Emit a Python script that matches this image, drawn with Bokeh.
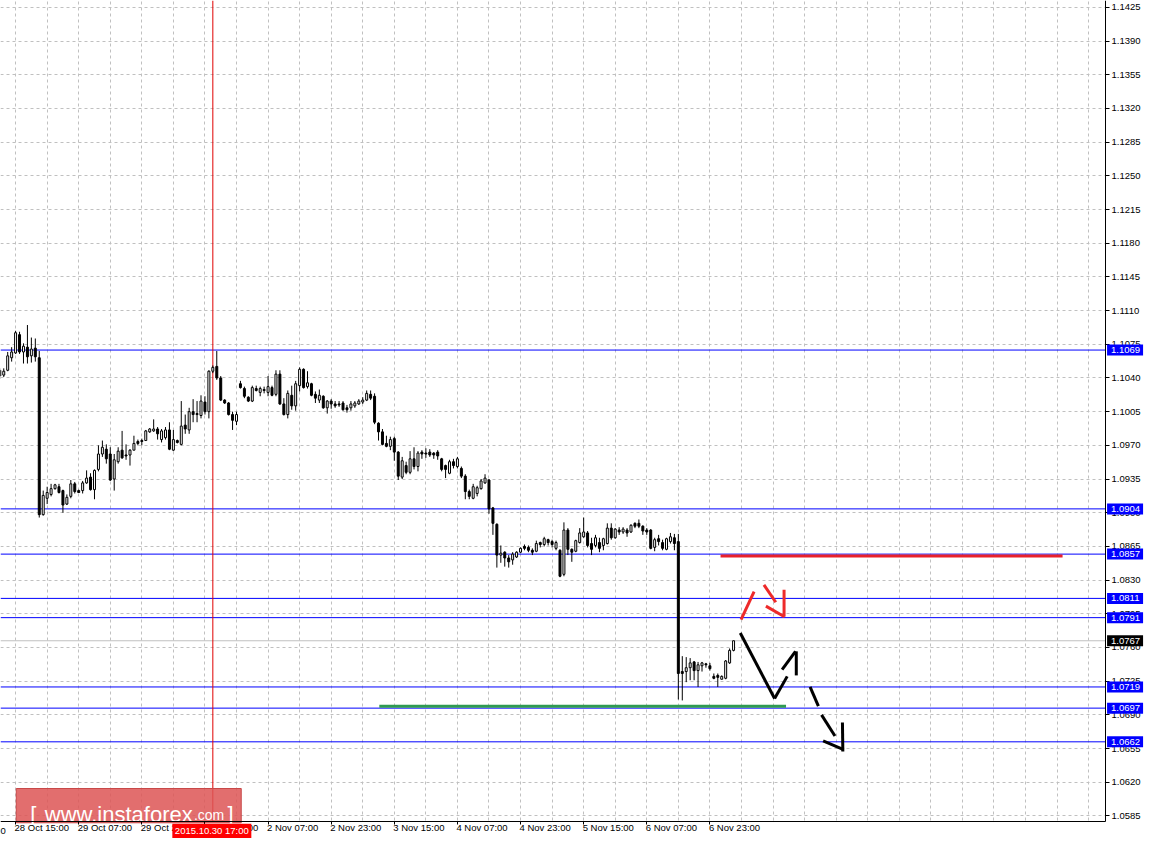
import numpy as np
from bokeh.plotting import figure
from bokeh.models import FixedTicker, PrintfTickFormatter
from bokeh.embed import file_html
from bokeh.resources import INLINE
from bokeh.core.properties import value

# ---------------- data (EURUSD H1, bar index 0 = 28 Oct 15:00) ----------------
first_bar = -4
opens = [
 1.1042, 1.1043, 1.1048, 1.1061,
 1.1066, 1.1085, 1.1067, 1.1072, 1.1063, 1.1071, 1.1061, 1.0898, 1.0915, 1.0919,
 1.0925, 1.0927, 1.0923, 1.0909, 1.0917, 1.0930, 1.0923, 1.0923, 1.0931, 1.0937,
 1.0924, 1.0945, 1.0961, 1.0966, 1.0961, 1.0935, 1.0953, 1.0965, 1.0960, 1.0960,
 1.0965, 1.0974, 1.0975, 1.0975, 1.0984, 1.0985, 1.0987, 1.0976, 1.0978, 1.0986,
 1.0965, 1.0975, 1.0971, 1.0991, 1.0986, 1.1005, 1.1003, 1.1001, 1.1015, 1.1005,
 1.1047, 1.1052, 1.1040, 1.1017, 1.1014, 1.1002, 1.0995, 1.1034, 1.1029, 1.1020,
 1.1016, 1.1029, 1.1025, 1.1028, 1.1025, 1.1030, 1.1023, 1.1044, 1.1013, 1.1002,
 1.1022, 1.1011, 1.1032, 1.1049, 1.1031, 1.1034, 1.1023, 1.1017, 1.1021, 1.1009,
 1.1016, 1.1013, 1.1013, 1.1014, 1.1009, 1.1009, 1.1011, 1.1013, 1.1015, 1.1017,
 1.1023, 1.1021, 1.0993, 1.0984, 1.0972, 1.0969, 1.0977, 1.0963, 1.0937, 1.0949,
 1.0942, 1.0956, 1.0948, 1.0963, 1.0962, 1.0963, 1.0962, 1.0963, 1.0956, 1.0949,
 1.0941, 1.0953, 1.0948, 1.0946, 1.0938, 1.0922, 1.0915, 1.0920, 1.0925, 1.0931,
 1.0934, 1.0905, 1.0888, 1.0856, 1.0859, 1.0853, 1.0851, 1.0854, 1.0859, 1.0865,
 1.0864, 1.0861, 1.0860, 1.0869, 1.0867, 1.0872, 1.0870, 1.0863, 1.0861, 1.0836,
 1.0882, 1.0862, 1.0860, 1.0869, 1.0875, 1.0879, 1.0868, 1.0866, 1.0869, 1.0866,
 1.0868, 1.0884, 1.0874, 1.0882, 1.0880, 1.0882, 1.0880, 1.0889, 1.0889, 1.0886,
 1.0882, 1.0882, 1.0864, 1.0873, 1.0869, 1.0862, 1.0870, 1.0874, 1.0870, 1.0735,
 1.0735, 1.0739, 1.0745, 1.0736, 1.0741, 1.0743, 1.0741, 1.0730, 1.0731, 1.0727,
 1.0728, 1.0744, 1.0757]
highs = [
 1.1050, 1.1050, 1.1067, 1.1072,
 1.1089, 1.1088, 1.1076, 1.1095, 1.1082, 1.1081, 1.1068, 1.0923, 1.0927, 1.0930,
 1.0930, 1.0930, 1.0924, 1.0919, 1.0934, 1.0932, 1.0924, 1.0933, 1.0944, 1.0941,
 1.0945, 1.0970, 1.0975, 1.0971, 1.0968, 1.0961, 1.0968, 1.0985, 1.0971, 1.0966,
 1.0980, 1.0976, 1.0977, 1.0986, 1.0988, 1.0997, 1.0989, 1.0987, 1.0989, 1.0994,
 1.0986, 1.0976, 1.1016, 1.1002, 1.1009, 1.1018, 1.1016, 1.1022, 1.1021, 1.1048,
 1.1053, 1.1068, 1.1042, 1.1018, 1.1015, 1.1005, 1.1005, 1.1037, 1.1031, 1.1021,
 1.1032, 1.1032, 1.1031, 1.1031, 1.1042, 1.1032, 1.1048, 1.1048, 1.1019, 1.1027,
 1.1032, 1.1037, 1.1051, 1.1050, 1.1047, 1.1035, 1.1026, 1.1028, 1.1022, 1.1017,
 1.1018, 1.1016, 1.1016, 1.1016, 1.1012, 1.1016, 1.1016, 1.1018, 1.1020, 1.1027,
 1.1027, 1.1024, 1.0994, 1.0987, 1.0980, 1.0979, 1.0979, 1.0964, 1.0958, 1.0953,
 1.0964, 1.0968, 1.0964, 1.0965, 1.0967, 1.0966, 1.0963, 1.0965, 1.0957, 1.0950,
 1.0955, 1.0956, 1.0958, 1.0948, 1.0940, 1.0924, 1.0930, 1.0928, 1.0935, 1.0940,
 1.0935, 1.0906, 1.0889, 1.0866, 1.0860, 1.0856, 1.0859, 1.0860, 1.0864, 1.0867,
 1.0866, 1.0863, 1.0871, 1.0870, 1.0875, 1.0873, 1.0872, 1.0871, 1.0862, 1.0890,
 1.0884, 1.0863, 1.0872, 1.0884, 1.0895, 1.0881, 1.0874, 1.0877, 1.0874, 1.0874,
 1.0889, 1.0889, 1.0884, 1.0885, 1.0885, 1.0884, 1.0888, 1.0890, 1.0893, 1.0887,
 1.0884, 1.0883, 1.0874, 1.0877, 1.0872, 1.0874, 1.0879, 1.0878, 1.0878, 1.0751,
 1.0750, 1.0749, 1.0746, 1.0745, 1.0745, 1.0744, 1.0744, 1.0733, 1.0733, 1.0731,
 1.0747, 1.0759, 1.0767]
lows = [
 1.1039, 1.1041, 1.1047, 1.1057,
 1.1065, 1.1065, 1.1055, 1.1055, 1.1056, 1.1057, 1.0895, 1.0897, 1.0909, 1.0917,
 1.0924, 1.0920, 1.0900, 1.0908, 1.0915, 1.0920, 1.0921, 1.0920, 1.0930, 1.0923,
 1.0914, 1.0943, 1.0958, 1.0951, 1.0933, 1.0923, 1.0951, 1.0956, 1.0955, 1.0949,
 1.0965, 1.0970, 1.0970, 1.0975, 1.0983, 1.0984, 1.0976, 1.0973, 1.0976, 1.0965,
 1.0964, 1.0972, 1.0970, 1.0982, 1.0982, 1.0994, 1.0994, 1.0998, 1.1002, 1.0998,
 1.1045, 1.1038, 1.1016, 1.1013, 1.1001, 1.0986, 1.0991, 1.1029, 1.1019, 1.1015,
 1.1015, 1.1026, 1.1021, 1.1024, 1.1021, 1.1021, 1.1021, 1.1012, 1.1001, 1.0998,
 1.1007, 1.1006, 1.1026, 1.1029, 1.1029, 1.1021, 1.1014, 1.1014, 1.1008, 1.1003,
 1.1008, 1.1009, 1.1010, 1.1006, 1.1004, 1.1006, 1.1009, 1.1012, 1.1013, 1.1016,
 1.1017, 1.0992, 1.0975, 1.0970, 1.0968, 1.0965, 1.0954, 1.0934, 1.0935, 1.0940,
 1.0940, 1.0945, 1.0943, 1.0956, 1.0957, 1.0958, 1.0956, 1.0955, 1.0943, 1.0936,
 1.0940, 1.0946, 1.0946, 1.0936, 1.0914, 1.0914, 1.0914, 1.0917, 1.0924, 1.0930,
 1.0899, 1.0877, 1.0843, 1.0848, 1.0844, 1.0843, 1.0846, 1.0853, 1.0858, 1.0861,
 1.0859, 1.0856, 1.0859, 1.0864, 1.0865, 1.0866, 1.0864, 1.0861, 1.0833, 1.0834,
 1.0856, 1.0849, 1.0859, 1.0868, 1.0874, 1.0864, 1.0856, 1.0864, 1.0859, 1.0861,
 1.0867, 1.0872, 1.0873, 1.0877, 1.0878, 1.0875, 1.0879, 1.0884, 1.0884, 1.0877,
 1.0877, 1.0862, 1.0860, 1.0866, 1.0861, 1.0861, 1.0868, 1.0861, 1.0706, 1.0705,
 1.0724, 1.0726, 1.0726, 1.0719, 1.0735, 1.0739, 1.0736, 1.0727, 1.0719, 1.0727,
 1.0727, 1.0743, 1.0756]
closes = [
 1.1048, 1.1047, 1.1063, 1.1067,
 1.1087, 1.1067, 1.1073, 1.1062, 1.1070, 1.1062, 1.0898, 1.0918, 1.0921, 1.0925,
 1.0929, 1.0921, 1.0908, 1.0916, 1.0930, 1.0922, 1.0921, 1.0931, 1.0936, 1.0924,
 1.0944, 1.0961, 1.0968, 1.0956, 1.0934, 1.0955, 1.0964, 1.0957, 1.0959, 1.0965,
 1.0972, 1.0972, 1.0974, 1.0985, 1.0987, 1.0987, 1.0982, 1.0985, 1.0986, 1.0966,
 1.0976, 1.0973, 1.0990, 1.0987, 1.1005, 1.1002, 1.1002, 1.1016, 1.1005, 1.1047,
 1.1051, 1.1040, 1.1017, 1.1014, 1.1002, 1.0996, 1.1002, 1.1030, 1.1021, 1.1016,
 1.1030, 1.1027, 1.1029, 1.1027, 1.1031, 1.1022, 1.1044, 1.1013, 1.1002, 1.1024,
 1.1011, 1.1034, 1.1049, 1.1030, 1.1035, 1.1022, 1.1019, 1.1022, 1.1009, 1.1016,
 1.1013, 1.1011, 1.1012, 1.1007, 1.1007, 1.1013, 1.1014, 1.1016, 1.1017, 1.1024,
 1.1019, 1.0994, 1.0984, 1.0971, 1.0969, 1.0976, 1.0963, 1.0938, 1.0954, 1.0942,
 1.0956, 1.0948, 1.0962, 1.0961, 1.0961, 1.0960, 1.0960, 1.0959, 1.0945, 1.0945,
 1.0953, 1.0949, 1.0956, 1.0938, 1.0922, 1.0917, 1.0927, 1.0926, 1.0933, 1.0936,
 1.0904, 1.0889, 1.0856, 1.0858, 1.0853, 1.0849, 1.0857, 1.0859, 1.0863, 1.0863,
 1.0861, 1.0859, 1.0868, 1.0867, 1.0873, 1.0869, 1.0867, 1.0869, 1.0834, 1.0882,
 1.0862, 1.0859, 1.0871, 1.0879, 1.0880, 1.0866, 1.0862, 1.0874, 1.0863, 1.0873,
 1.0884, 1.0874, 1.0883, 1.0880, 1.0883, 1.0879, 1.0887, 1.0886, 1.0886, 1.0881,
 1.0880, 1.0863, 1.0872, 1.0870, 1.0863, 1.0873, 1.0875, 1.0868, 1.0733, 1.0733,
 1.0739, 1.0744, 1.0736, 1.0742, 1.0744, 1.0742, 1.0738, 1.0728, 1.0729, 1.0730,
 1.0746, 1.0757, 1.0767]

time_label_bars = [0, 16, 32, 48, 64, 80, 96, 112, 128, 144, 160, 176]
time_labels = ["28 Oct 15:00", "29 Oct 07:00", "29 Oct 23:00", "30 Oct 15:00",
               "2 Nov 07:00", "2 Nov 23:00", "3 Nov 15:00", "4 Nov 07:00",
               "4 Nov 23:00", "5 Nov 15:00", "6 Nov 07:00", "6 Nov 23:00"]
cut_label_bar = -16
cut_label = "27 Oct 23:00"

price_ticks = [round(1.0585 + 0.0035 * i, 4) for i in range(25)]
level_prices = [1.1069, 1.0904, 1.0857, 1.0811, 1.0791, 1.0719, 1.0697, 1.0662]
bid_price = 1.0767
marker_bar = 50
marker_label = "2015.10.30 17:00"

# analyst drawings (bar index, price)
red_level = dict(x0=178.7, x1=265.4, y=1.0855)
green_level = dict(x0=92.2, x1=195.3, y=1.0699)
red_arrow = dict(x0=[183.9, 189.7, 190.2, 194.8], y0=[1.0789, 1.0825, 1.0803, 1.0820],
                 x1=[187.2, 192.7, 194.9, 194.8], y1=[1.0818, 1.0807, 1.0792, 1.0792])
black_arrow = dict(x0=[183.7, 192.4, 194.3, 197.9], y0=[1.0775, 1.0707, 1.0737, 1.0756],
                   x1=[192.4, 195.6, 197.7, 197.9], y1=[1.0707, 1.0730, 1.0756, 1.0731])
dashed_arrow = dict(x0=[201.4, 204.3, 204.7, 209.6], y0=[1.0719, 1.0690, 1.0663, 1.0682],
                    x1=[203.5, 207.7, 209.9, 209.7], y1=[1.0699, 1.0668, 1.0654, 1.0652])

assert len(opens) == len(highs) == len(lows) == len(closes)

# ---------------- layout constants ----------------
W, H = 1146, 838
X0, X1 = -3.825, 286.675          # whole canvas, in bars
Y0, Y1 = 1.056157, 1.143214       # whole canvas, in price
AX_X = 276.3                      # right price axis line (bars)
AX_Y = 1.05789                    # bottom time axis line (price)
px_x = W / (X1 - X0)              # px per bar
px_y = H / (Y1 - Y0)              # px per price unit
FONT = "Liberation Sans"
FS = "9.5px"

p = figure(width=W, height=H, x_range=(X0, X1), y_range=(Y0, Y1),
           toolbar_location=None, output_backend="svg",
           x_axis_location="below", y_axis_location="right",
           min_border=0, min_border_left=0, min_border_right=0,
           min_border_top=0, min_border_bottom=0)
p.outline_line_color = None
p.background_fill_color = "white"
p.border_fill_color = "white"

# grid
p.xgrid.ticker = FixedTicker(ticks=list(range(-8, 276, 8)))
for g in (p.xgrid[0], p.ygrid[0]):
    g.grid_line_color = "#c0c0c0"
    g.grid_line_dash = "3 3"
    g.grid_line_width = 1

# right price axis, drawn at the chart edge
ya = p.yaxis[0]
ya.fixed_location = AX_X
ya.bounds = (AX_Y, Y1)
ya.ticker = FixedTicker(ticks=price_ticks)
ya.formatter = PrintfTickFormatter(format="%.4f")
ya.axis_line_color = "black"
ya.major_tick_line_color = "black"
ya.major_tick_out = 4
ya.major_tick_in = 0
ya.minor_tick_line_color = None
ya.major_label_standoff = 2
ya.major_label_text_font = FONT
ya.major_label_text_font_size = FS
ya.major_label_text_color = "black"

# bottom time axis (labels start at their bar, as in the terminal)
char_w = {" ": 0.278, ":": 0.278, ".": 0.278, "O": 0.778, "c": 0.5, "t": 0.278,
          "N": 0.722, "o": 0.556, "v": 0.5}
def text_w(s, size=9.5):
    return sum(char_w.get(ch, 0.556) for ch in s) * size
tick_pos = [b + (-1.0 + text_w(s) / 2) / px_x for b, s in zip(time_label_bars, time_labels)]
xa = p.xaxis[0]
xa.fixed_location = AX_Y
xa.bounds = (X0, AX_X)
xa.ticker = FixedTicker(ticks=tick_pos, minor_ticks=time_label_bars)
xa.major_label_overrides = {t: s for t, s in zip(tick_pos, time_labels)}
xa.axis_line_color = "black"
xa.major_tick_line_color = None
xa.major_tick_out = 0
xa.major_tick_in = 0
xa.minor_tick_line_color = "black"
xa.minor_tick_out = 3
xa.minor_tick_in = 0
xa.major_label_standoff = -3
xa.major_label_text_font = FONT
xa.major_label_text_font_size = FS
xa.major_label_text_color = "black"

# white margins where the terminal has its scales (hide grid there)
p.quad(left=[AX_X, X0], right=[X1, X1], top=[Y1, AX_Y], bottom=[Y0, Y0],
       fill_color="white", line_color=None)

# horizontal levels, bid line, time marker
n_lv = len(level_prices)
p.segment(x0=[X0] * n_lv, x1=[AX_X] * n_lv, y0=level_prices, y1=level_prices,
          line_color="#0000ff", line_width=1)
p.segment(x0=[X0], x1=[AX_X], y0=[bid_price], y1=[bid_price], line_color="#c0c0c0", line_width=1)
p.segment(x0=[marker_bar], x1=[marker_bar], y0=[AX_Y], y1=[Y1], line_color="#e00000", line_width=1)

# candles
x = np.arange(len(opens)) + first_bar
o = np.array(opens); c = np.array(closes)
h = np.array(highs); l = np.array(lows)
bull = c >= o
p.segment(x0=x, y0=l, x1=x, y1=h, line_color="black", line_width=1)
p.vbar(x=x[bull], width=0.5, top=c[bull], bottom=o[bull],
       fill_color="white", line_color="black", line_width=1)
p.vbar(x=x[~bull], width=0.5, top=o[~bull], bottom=c[~bull],
       fill_color="black", line_color="black", line_width=1)

# analyst drawings
p.segment(x0=[red_level["x0"]], y0=[red_level["y"]], x1=[red_level["x1"]], y1=[red_level["y"]],
          line_color="#e8212b", line_width=3)
p.segment(x0=[green_level["x0"]], y0=[green_level["y"]], x1=[green_level["x1"]], y1=[green_level["y"]],
          line_color="#2f9a52", line_width=3)
p.segment(line_color="#ee2a2a", line_width=3, **red_arrow)
p.segment(line_color="black", line_width=3, **black_arrow)
p.segment(line_color="black", line_width=3, **dashed_arrow)

# watermark
p.quad(left=[0.175], right=[57.2], top=[1.06135], bottom=[1.05779],
       fill_color="#dd5555", fill_alpha=0.85, line_color="#c84848", line_width=1)
p.text(x=[3.7, 7.4, 45.2, 53.7], y=[1.0586] * 4,
       text=["[", "www.instaforex", ".com", "]"],
       text_font=value(FONT), text_font_size=["22px", "22px", "14px", "22px"],
       text_color="white", text_baseline="alphabetic", text_align="left")

# price boxes on the scale (drawn above the axis labels)
box_half = 5.5 / px_y
box_l = AX_X + 1.5 / px_x
box_r = AX_X + 37.5 / px_x
txt_x = AX_X + 5.5 / px_x
p.quad(left=[box_l] * n_lv, right=[box_r] * n_lv,
       top=[v + box_half for v in level_prices], bottom=[v - box_half for v in level_prices],
       fill_color="#0000ff", line_color=None, level="overlay")
p.quad(left=[box_l], right=[box_r], top=[bid_price + box_half], bottom=[bid_price - box_half],
       fill_color="black", line_color=None, level="overlay")
p.text(x=[txt_x] * (n_lv + 1), y=level_prices + [bid_price],
       text=[f"{v:.4f}" for v in level_prices + [bid_price]],
       text_font=value(FONT), text_font_size=FS, text_color="white",
       text_baseline="middle", text_align="left", level="overlay")

# time marker box on the time scale, and the clipped first time label
lab_y = AX_Y - 9.0 / px_y
p.quad(left=[marker_bar - 40.5 / px_x], right=[marker_bar + 38.5 / px_x],
       top=[AX_Y - 2 / px_y], bottom=[Y0], fill_color="#ff0000", line_color=None, level="overlay")
p.text(x=[marker_bar - 1 / px_x], y=[lab_y], text=[marker_label], text_font=value(FONT),
       text_font_size=FS, text_color="white", text_baseline="middle", text_align="center",
       level="overlay")
p.text(x=[cut_label_bar - 1.0 / px_x], y=[lab_y], text=[cut_label], text_font=value(FONT),
       text_font_size=FS, text_color="black", text_baseline="middle", text_align="left")

open("out.html", "w").write(file_html(p, INLINE))
